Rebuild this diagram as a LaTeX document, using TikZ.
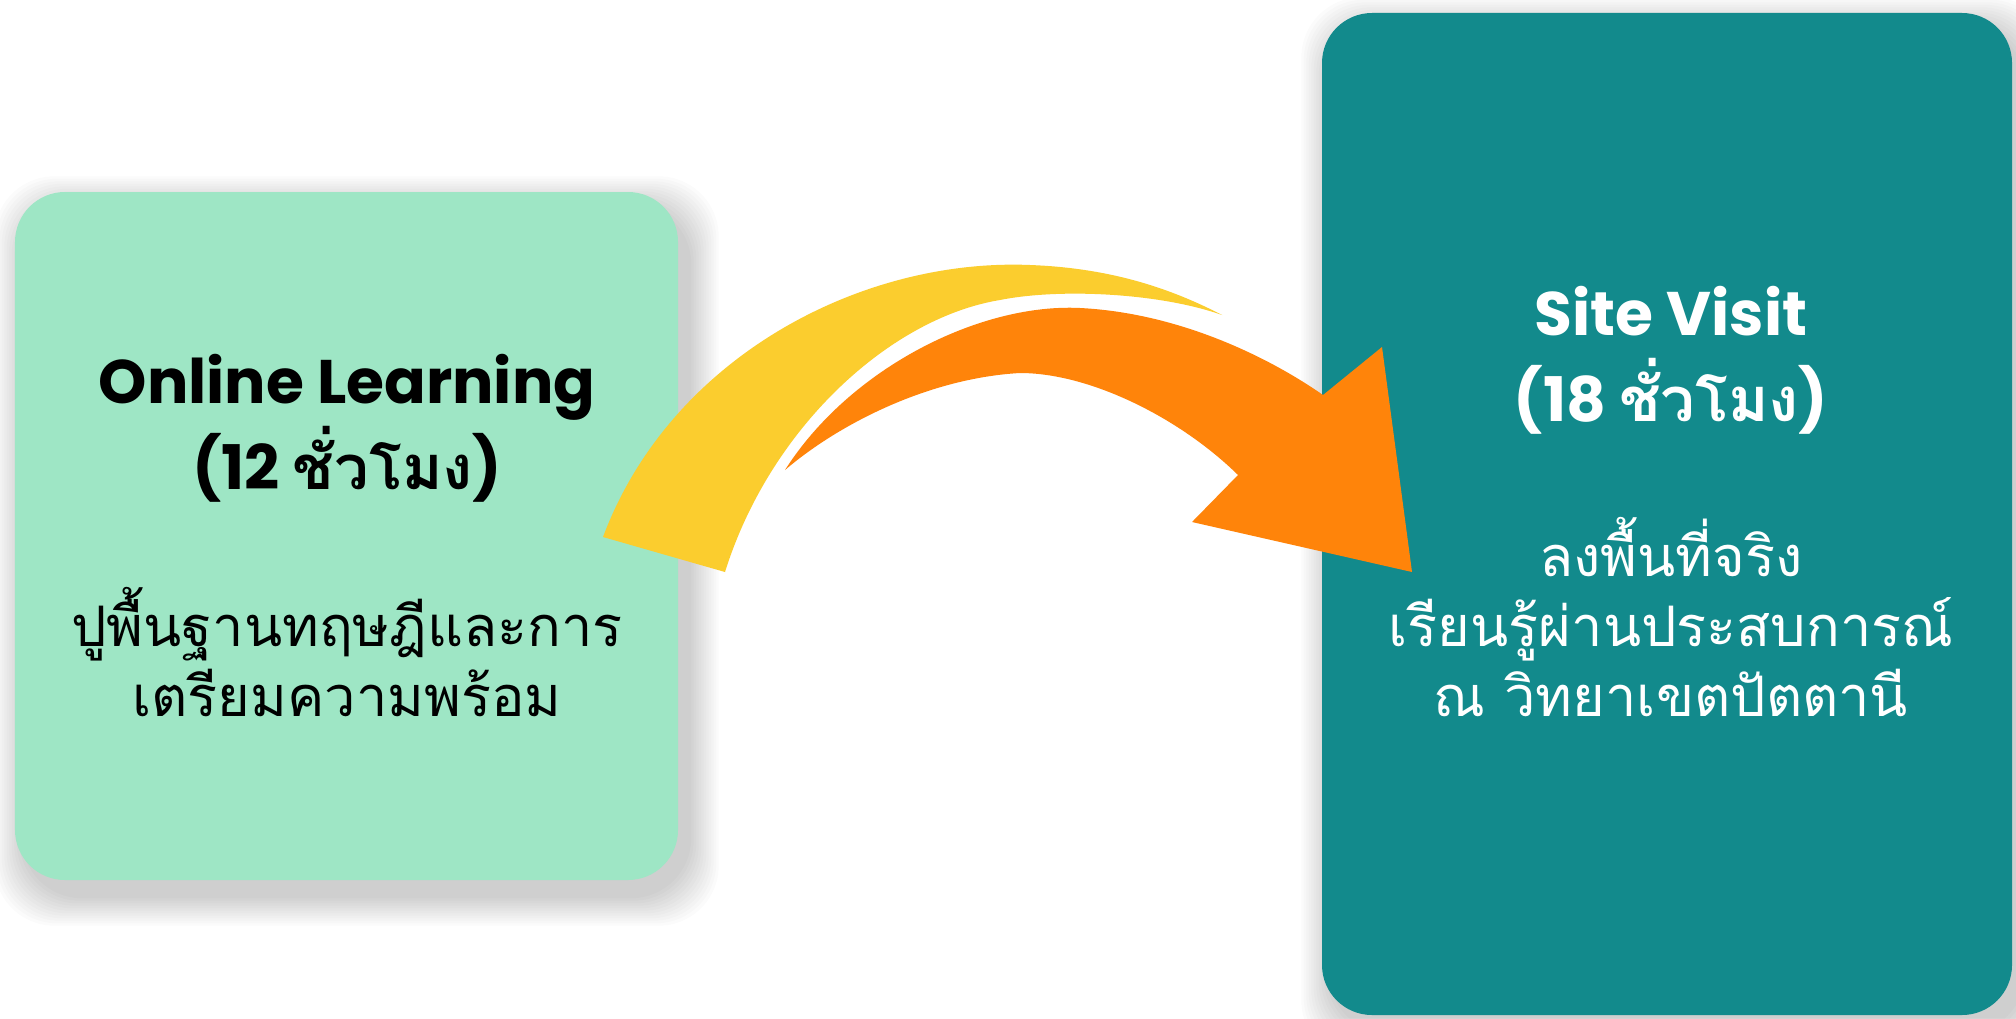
\documentclass[tikz,border=0pt]{standalone}
\usepackage{fontspec}
\setmainfont{Poppins}
\newfontfamily\thaifont[Script=Thai]{Loma}
\usepackage{tikz}

\definecolor{onlinegreen}{RGB}{158,230,197}
\definecolor{siteteal}{RGB}{18,138,140}
\definecolor{arcyellow}{RGB}{251,205,46}
\definecolor{arcorange}{RGB}{255,132,10}

\pgfdeclarelayer{backdrop}
\pgfdeclarelayer{shade}
\pgfsetlayers{backdrop,shade,main}

\begin{document}
\begin{tikzpicture}[
  card/.style={rectangle, rounded corners=0.5cm, inner sep=0pt},
  heading/.style={font=\fontsize{17.5}{24.4}\selectfont\bfseries, align=center},
  detail/.style={font=\thaifont\fontsize{15.9}{20}\selectfont, align=center}
]
  \useasboundingbox (0,0) rectangle (20.16,10.18);
  \begin{pgfonlayer}{backdrop}
    \fill[white] (0,0) rectangle (20.16,10.18);
  \end{pgfonlayer}

  % Cards
  \node[card, fill=onlinegreen, minimum width=6.63cm, minimum height=6.88cm] (online) at (3.465,4.82) {};
  \node[card, fill=siteteal, minimum width=6.9cm, minimum height=10.02cm] (site) at (16.67,5.04) {};

  % Soft shadows
  \begin{pgfonlayer}{shade}
    \foreach \boxname in {online,site}
      \foreach \k in {1,...,12}
        \fill[black, opacity=0.014, rounded corners=0.6cm]
          ([shift={(0.1-0.025*\k, -0.15-0.025*\k)}]\boxname.south west) rectangle
          ([shift={(0.1+0.025*\k, -0.15+0.025*\k)}]\boxname.north east);
  \end{pgfonlayer}

  % Swoosh arrow
  \fill[arcyellow] (6.03,4.81) .. controls (6.7,6.6) and (8.6,7.6) .. (10.3,7.53)
    .. controls (11.1,7.5) and (11.7,7.3) .. (12.22,7.03)
    .. controls (11.6,7.25) and (10.6,7.3) .. (10.0,7.18)
    .. controls (8.9,7.0) and (7.7,5.9) .. (7.25,4.46) -- cycle;
  \fill[arcorange] (7.85,5.48) .. controls (8.5,6.5) and (9.8,7.15) .. (10.8,7.1)
    .. controls (11.8,7.05) and (12.7,6.6) .. (13.23,6.23)
    -- (13.82,6.71) -- (14.12,4.46) -- (11.92,4.96) -- (12.38,5.43)
    .. controls (11.8,6.0) and (10.9,6.45) .. (10.2,6.45)
    .. controls (9.3,6.4) and (8.4,5.95) .. (7.85,5.48) -- cycle;

  % Online learning text
  \node[heading] (online-title) at (3.47,5.90) {Online Learning\\(12 {\thaifont ชั่วโมง})};
  \node[detail] (online-text) at (3.47,3.66) {ปูพื้นฐานทฤษฎีและการ\\เตรียมความพร้อม};

  % Site visit text
  \node[heading, text=white] (site-title) at (16.71,6.58) {Site Visit\\(18 {\thaifont ชั่วโมง})};
  \node[detail, text=white] (site-text) at (16.71,4.01) {ลงพื้นที่จริง\\เรียนรู้ผ่านประสบการณ์\\ณ วิทยาเขตปัตตานี};
\end{tikzpicture}
\end{document}
